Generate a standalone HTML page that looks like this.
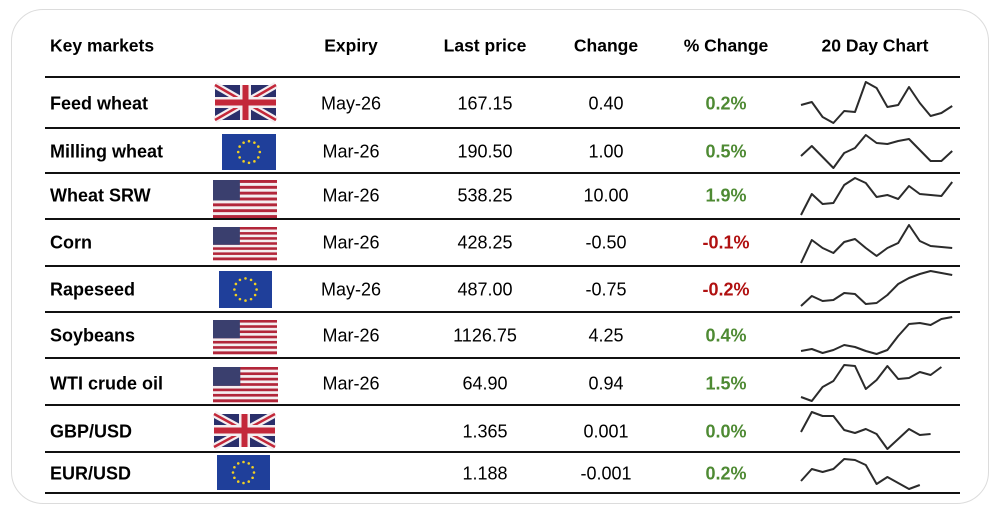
<!DOCTYPE html>
<html><head><meta charset="utf-8"><style>
html,body{margin:0;padding:0;background:#fff;}
body{width:1000px;height:509px;position:relative;overflow:hidden;font-family:"Liberation Sans",sans-serif;}
#frame{position:absolute;left:11px;top:9px;width:978px;height:495px;border:1.5px solid #dcdcdc;border-radius:32px;box-sizing:border-box;}
.t{position:absolute;font-size:18px;color:#000;white-space:nowrap;transform:translate(-50%,-50%);}
.l{transform:translate(0,-50%);font-weight:bold;}
.h{font-weight:bold;font-size:17.5px;}
.g{color:#4e8a33;font-weight:bold;}
.r{color:#b01010;font-weight:bold;}
.line{position:absolute;left:45px;width:915px;height:1.5px;background:#111;}
</style></head><body>
<div id="frame"></div>
<svg id="svg" width="1000" height="509" style="position:absolute;left:0;top:0"></svg>
<script>
const markets=["Feed wheat","Milling wheat","Wheat SRW","Corn","Rapeseed","Soybeans","WTI crude oil","GBP/USD","EUR/USD"];
const flags=["uk","eu","us","us","eu","us","us","uk","eu"];
const expiry=["May-26","Mar-26","Mar-26","Mar-26","May-26","Mar-26","Mar-26","",""];
const lastPrice=["167.15","190.50","538.25","428.25","487.00","1126.75","64.90","1.365","1.188"];
const change=["0.40","1.00","10.00","-0.50","-0.75","4.25","0.94","0.001","-0.001"];
const pctChange=["0.2%","0.5%","1.9%","-0.1%","-0.2%","0.4%","1.5%","0.0%","0.2%"];
// sparkline values (height above row bottom line, px units)
const s0=[23,26,11,5,17,16,46,40,21,23,41,25,12,15,22];
const s1=[17,27,16,5,20,25,38,30,29,32,34,23,12,12,22];
const s2=[4,25,15,16,34,41,36,22,24,20,33,25,24,23,37];
const s3=[3,26,18,13,24,27,18,10,18,23,41,25,20,19,18];
const s4=[6,16,11,12,19,18,8,9,17,28,34,38,41,39,37];
const s5=[7,9,5,8,13,11,7,4,8,22,34,35,33,39,41];
const s6=[8,4,18,24,40,39,16,25,39,26,27,33,30,38];
const s7=[20,40,36,36,22,19,23,18,3,13,23,17,18];
const s8=[12,24,21,24,34,33,28,9,16,10,4,8];
const series=[s0,s1,s2,s3,s4,s5,s6,s7,s8];
const rowLines=[77,128,173,219,266,312,358,405,452,493];
const rowMid=[104,152,196,243,290,336,384,432,474];
const flagBox=[[215,85,61,35],[222,134,54,36],[213,180,64,38],[213,227,64,33],[219,271,53,37],[213,320,64,34],[213,367,65,35],[214,414,61,33],[217,455,53,35]];
const NS="http://www.w3.org/2000/svg";
const svg=document.getElementById('svg');
function txt(s,x,y,cls,name){const d=document.createElement('div');d.className='t '+cls;d.textContent=s;d.style.left=x+'px';d.style.top=y+'px';


document.body.appendChild(d);}
txt("Key markets",50,46,'l h','header-key-markets');
txt("Expiry",351,46,'h','header-expiry');
txt("Last price",485,46,'h','header-last-price');
txt("Change",606,46,'h','header-change');
txt("% Change",726,46,'h','header-pct-change');
txt("20 Day Chart",875,46,'h','header-chart');
rowLines.forEach((y,i)=>{const d=document.createElement('div');d.className='line';d.style.top=(y-1)+'px';


document.body.appendChild(d);});
function el(t,a){const e=document.createElementNS(NS,t);for(const k in a)e.setAttribute(k,a[k]);svg.appendChild(e);return e;}
function flag(kind,x,y,w,h){
 if(kind==='eu'){el('rect',{x,y,width:w,height:h,fill:'#1f3f9a'});
  for(let k=0;k<12;k++){const a=k*Math.PI/6;el('circle',{cx:x+w/2+Math.cos(a)*h*0.3,cy:y+h/2+Math.sin(a)*h*0.3,r:1.3,fill:'#f2d022'});}}
 else if(kind==='us'){for(let k=0;k<13;k++)el('rect',{x,y:y+k*h/13,width:w,height:h/13+0.3,fill:k%2?'#f4eef0':'#b2263a'});
  el('rect',{x,y,width:w*0.42,height:h*7/13,fill:'#3a3f6e'});}
 else{el('rect',{x,y,width:w,height:h,fill:'#2a2f6b'});
  el('path',{d:`M${x},${y}L${x+w},${y+h}M${x+w},${y}L${x},${y+h}`,stroke:'#f4eef0','stroke-width':7});
  el('path',{d:`M${x},${y}L${x+w},${y+h}M${x+w},${y}L${x},${y+h}`,stroke:'#c3283a','stroke-width':2.5});
  el('path',{d:`M${x+w/2},${y}V${y+h}M${x},${y+h/2}H${x+w}`,stroke:'#f4eef0','stroke-width':11});
  el('path',{d:`M${x+w/2},${y}V${y+h}M${x},${y+h/2}H${x+w}`,stroke:'#c3283a','stroke-width':6});}
}
const xStart=801,xStep=10.8;
function sx(i){return xStart+i*xStep;}
function sy(row,v){return rowLines[row+1]-v;}
markets.forEach((m,i)=>{
 txt(m,50,rowMid[i],'l','market-name-'+i);
 const f=flagBox[i];flag(flags[i],f[0],f[1],f[2],f[3]);
 if(expiry[i])txt(expiry[i],351,rowMid[i],'','expiry-'+i);
 txt(lastPrice[i],485,rowMid[i],'','last-price-'+i);
 txt(change[i],606,rowMid[i],'','change-'+i);
 txt(pctChange[i],726,rowMid[i],pctChange[i][0]==='-'?'r':'g','pct-change-'+i);
 const pts=series[i].map((v,k)=>sx(k).toFixed(1)+','+sy(i,v).toFixed(1)).join(' ');
 const p=el('polyline',{points:pts,fill:'none',stroke:'#2b2b2b','stroke-width':2,'stroke-linejoin':'round'});
 
 
});
</script>
</body></html>
